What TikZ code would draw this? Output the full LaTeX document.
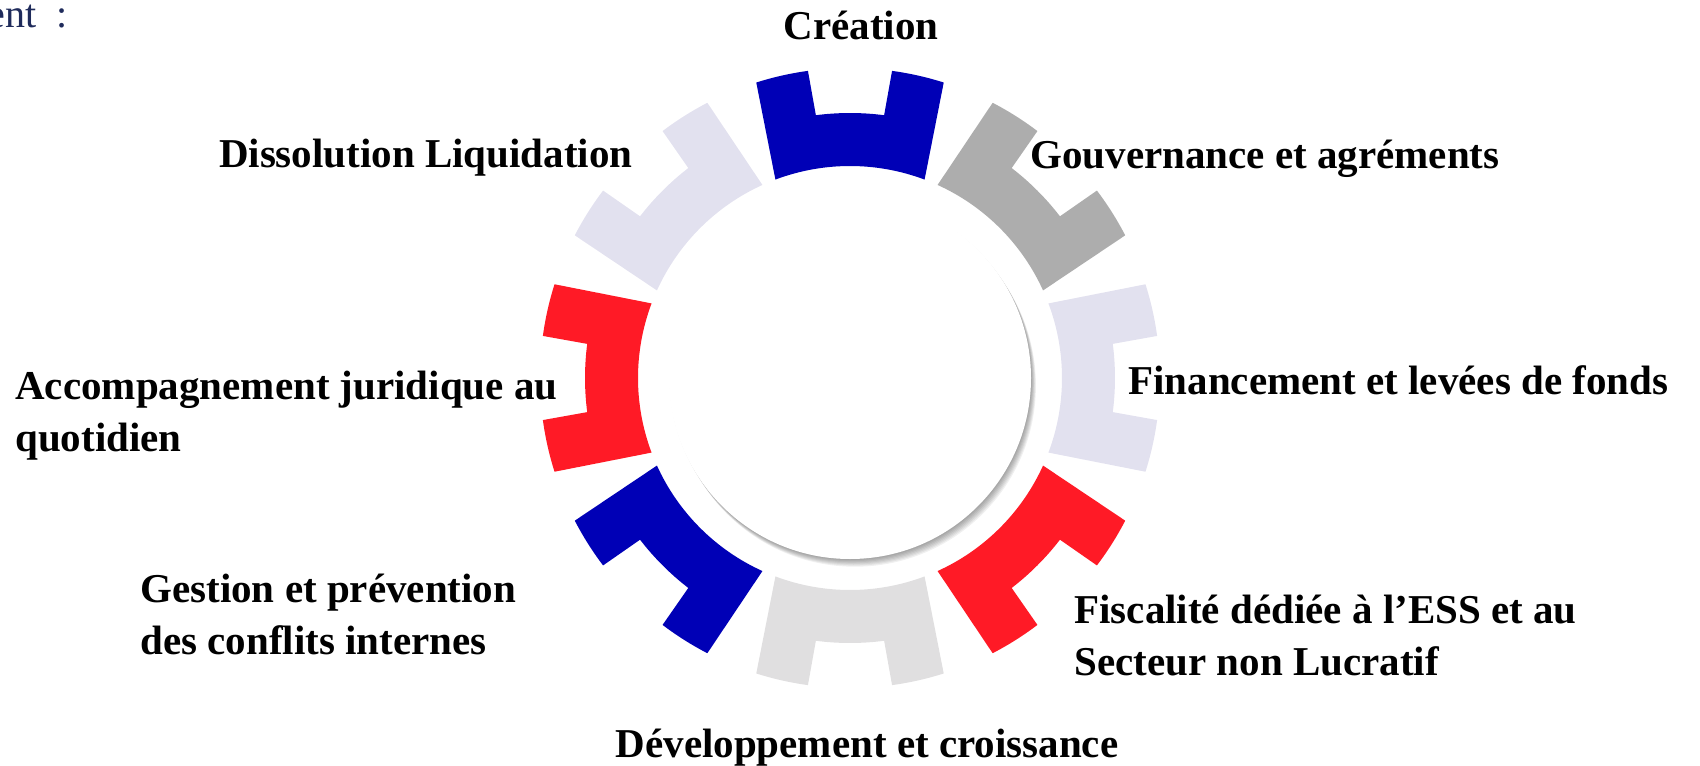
\documentclass[tikz,border=0pt]{standalone}
\usepackage{fontspec}
\setmainfont{Liberation Serif}
\definecolor{cogblue}{RGB}{0,0,182}
\definecolor{coggray}{RGB}{173,173,173}
\definecolor{coglilac}{RGB}{226,225,239}
\definecolor{cogred}{RGB}{255,26,38}
\definecolor{coglight}{RGB}{224,223,224}
\definecolor{introblue}{RGB}{31,43,91}
\tikzset{
  cogtext/.style={inner sep=0pt, text=black, font=\bfseries\fontsize{20.5}{26}\selectfont},
  cogpart/.pic={
    % one tooth block, axis pointing up
    \fill (69.4:212) -- (72.4:310) arc[start angle=72.4, end angle=82.2, radius=310]
      -- (82.6:265) arc[start angle=82.6, end angle=97.4, radius=265]
      -- (97.8:310) arc[start angle=97.8, end angle=107.6, radius=310]
      -- (110.6:212) arc[start angle=110.6, end angle=69.4, radius=212] -- cycle;
  }
}

\begin{document}
\begin{tikzpicture}[x=0.5pt,y=0.5pt,line join=round]
    \useasboundingbox (-850,-387) rectangle (850,378);

    % Cog
    \foreach \rot/\col in {0/cogblue, -45/coggray, -90/coglilac, -135/cogred, 180/coglight, 135/cogblue, 90/cogred, 45/coglilac} {
            \pic[rotate=\rot, fill=\col] at (0,0) {cogpart};
        }

    % Centre disc with soft shadow
    \foreach \s in {1,...,7} {
            \fill[black, opacity=0.06] (0.7*\s,-1.1*\s) circle[radius=181];
        }
    \fill[white] (0,0) circle[radius=181];

    \node[anchor=base east, inner sep=0pt, text=introblue, font=\fontsize{20}{24}\selectfont] (intro) at (-782,350) {ent~~:};

    % Labels
    \node[cogtext, anchor=base] (creation) at (11,338) {Création};
    \node[cogtext, anchor=base west] (gouvernance) at (180,209) {Gouvernance et agréments};
    \node[cogtext, anchor=base west] (financement) at (278,-17) {Financement et levées de fonds};
    \node[cogtext, anchor=base west] (fiscalite) at (224,-245) {\begin{tabular}[t]{@{}l@{}}Fiscalité dédiée à l’ESS et au\\Secteur non Lucratif\end{tabular}};
    \node[cogtext, anchor=base] (developpement) at (17,-379) {Développement et croissance};
    \node[cogtext, anchor=base west] (gestion) at (-710,-224) {\begin{tabular}[t]{@{}l@{}}Gestion et prévention\\des conflits internes\end{tabular}};
    \node[cogtext, anchor=base west] (accompagnement) at (-835,-21) {\begin{tabular}[t]{@{}l@{}}Accompagnement juridique au\\quotidien\end{tabular}};
    \node[cogtext, anchor=base east] (dissolution) at (-217,210) {Dissolution Liquidation};
\end{tikzpicture}
\end{document}
